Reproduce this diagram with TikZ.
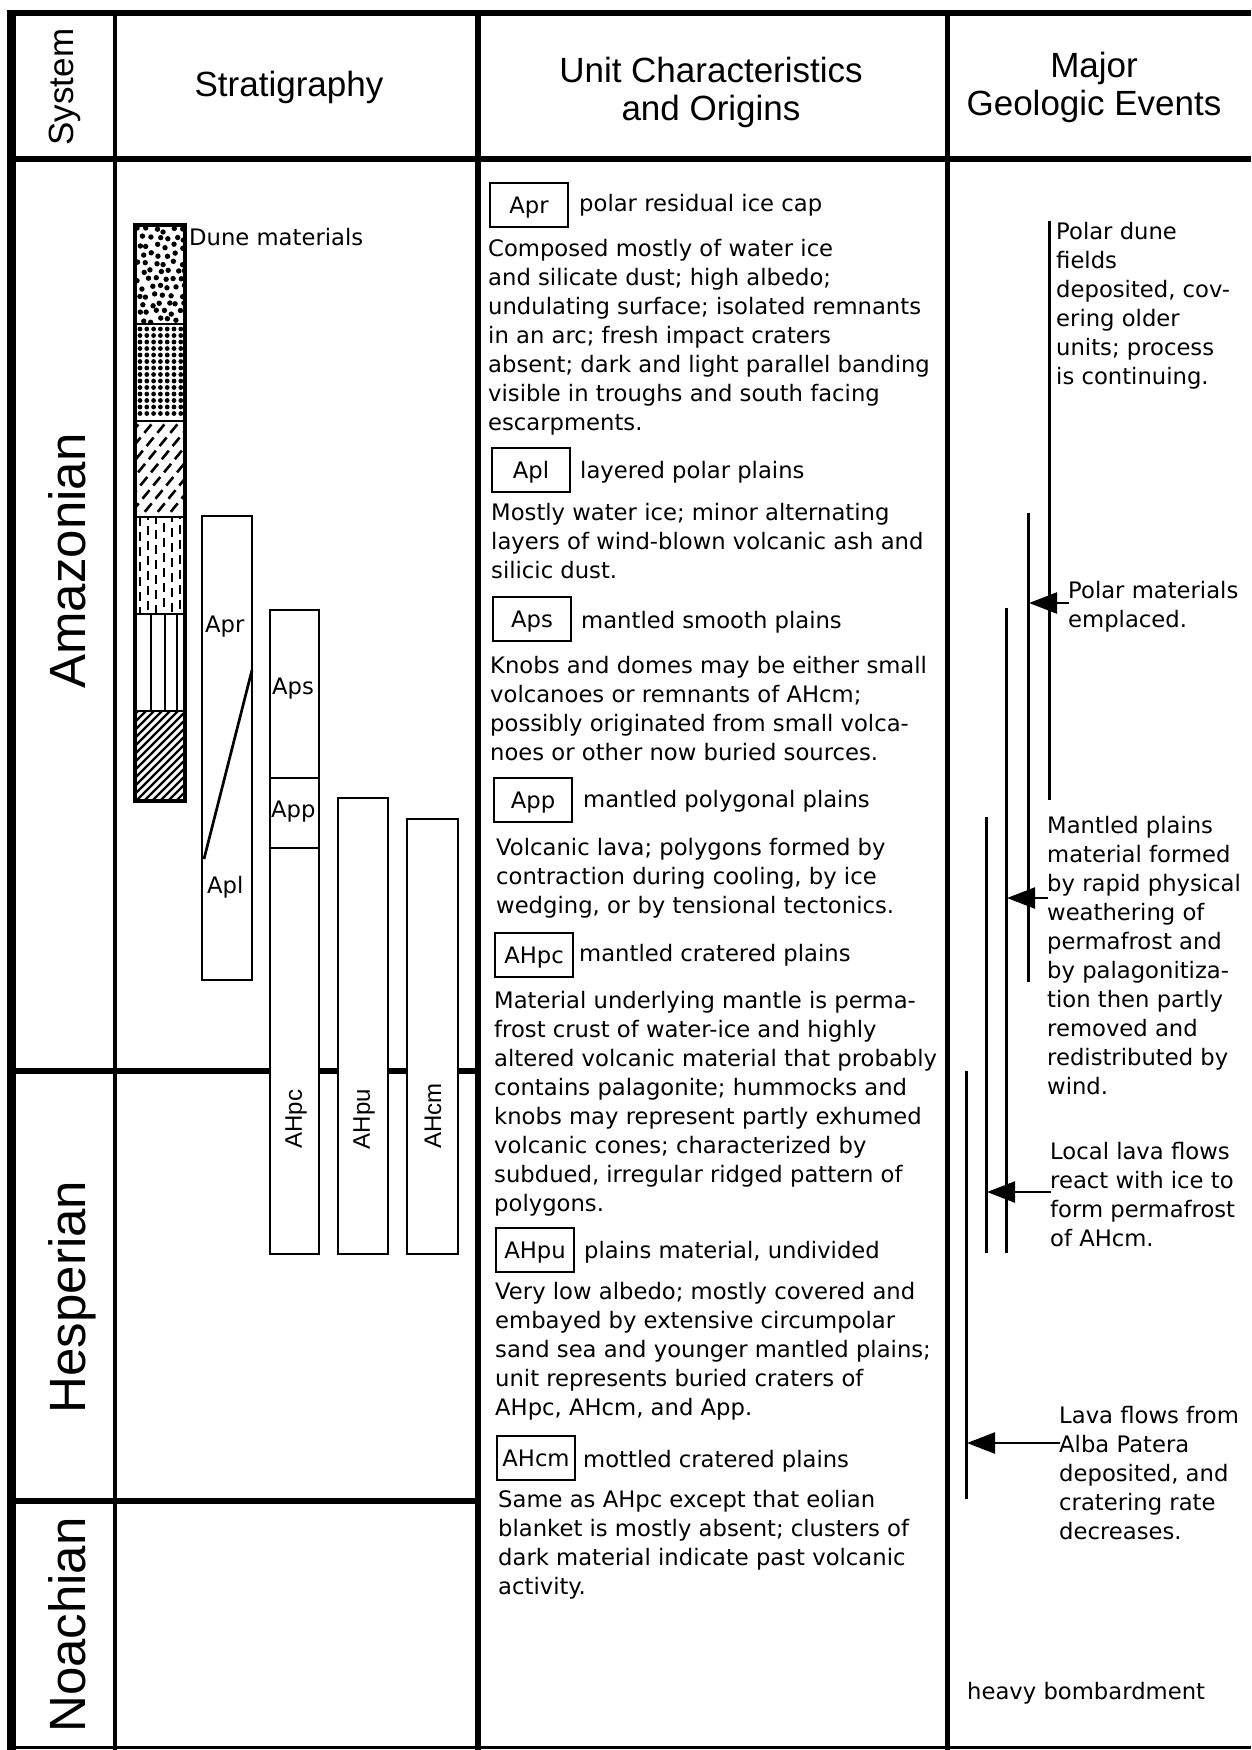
\documentclass[tikz,border=0pt]{standalone}
\usepackage{fontspec}
\setmainfont{DejaVu Sans}
\newfontfamily\helvfont{Liberation Sans}
\usetikzlibrary{arrows.meta}
\newcommand\bodyfnt{\fontsize{22.7}{29}\selectfont}
\newcommand\headfnt{\helvfont\fontsize{35}{38}\selectfont}
\newcommand\perfnt{\helvfont\fontsize{51}{55}\selectfont}
\newcommand\rotfnt{\helvfont\fontsize{24}{28}\selectfont}
\begin{document}
\begin{tikzpicture}[x=1pt,y=-1pt,
  body/.style={anchor=north west, inner sep=0pt, align=left, font=\bodyfnt},
  ttl/.style={anchor=base west, inner sep=0pt, font=\bodyfnt},
  unitbox/.style={draw, line width=2.5pt, minimum width=78pt, minimum height=44pt, inner sep=0pt, text height=17pt, text depth=0pt, font=\bodyfnt},
  stratbox/.style={draw, line width=2.7pt, fill=white},
  hdr/.style={anchor=base, inner sep=0pt, font=\headfnt},
  per/.style={anchor=base, rotate=90, inner sep=0pt, font=\perfnt},
  rotlab/.style={rotate=90, inner sep=0pt, font=\rotfnt},
  slab/.style={anchor=west, inner sep=0pt, font=\bodyfnt},
  evline/.style={line width=3pt},
  evarrow/.style={line width=2.4pt, -{Triangle[length=28pt,width=21pt]}},
  rule/.style={line width=6pt}
]
\useasboundingbox (0,0) rectangle (1251,1750);
\fill[white] (0,0) rectangle (1251,1750);

% ---------- frame ----------
\draw[rule] (7,13) -- (1251,13);
\draw[rule] (7,159) -- (1251,159);
\draw[line width=9pt] (11,10) -- (11,1750);
\draw[line width=4.5pt] (115,13) -- (115,1750);
\draw[rule] (478,13) -- (478,1750);
\draw[line width=5pt] (947,13) -- (947,1750);
\draw[rule] (11,1071) -- (478,1071);
\draw[rule] (11,1501) -- (478,1501);
\draw[line width=3pt] (11,1747) -- (1251,1747);

% ---------- headers ----------
\node[hdr, rotate=90] (hsys) at (73,87) {System};
\node[hdr] (hstrat) at (289,97) {Stratigraphy};
\node[hdr] (hunit1) at (711,83) {Unit Characteristics};
\node[hdr] (hunit2) at (711,121) {and Origins};
\node[hdr] (hmaj1) at (1094,78) {Major};
\node[hdr] (hmaj2) at (1094,116) {Geologic Events};

% ---------- periods ----------
\node[per] (pama) at (85,561) {Amazonian};
\node[per] (phes) at (85,1297) {Hesperian};
\node[per] (pnoa) at (85,1625) {Noachian};

% ---------- dune column ----------
\begin{scope}
\clip (135,225) rectangle (185,324);
\pgfmathsetseed{5}
\foreach \r in {0,...,11} {
  \foreach \c in {0,...,5} {
    \pgfmathsetmacro\ox{mod(\r,2)*4}
    \fill (139+\c*8.4+\ox+2.2*rand,230+\r*8.2+2.2*rand) circle (2.7);
  }
}
\end{scope}
\begin{scope}
\clip (135,324) rectangle (185,421);
\foreach \cx in {140,146.8,...,182} {\foreach \cy in {329,335.5,...,418} {\fill (\cx,\cy) circle (2.4);}}
\end{scope}
\begin{scope}
\clip (135,421) rectangle (185,517);
\foreach \s in {30,43,...,200} {\draw[line width=2.6pt, dash pattern=on 11pt off 6pt] (\s,525) -- ++(90,-110);}
\end{scope}
\begin{scope}
\clip (135,517) rectangle (185,614);
\foreach \cx/\ph in {140/0,148/6,156/2,164/9,172/4,180/7} {\draw[line width=2.3pt, dash pattern=on 9pt off 6pt, dash phase=\ph pt] (\cx,517) -- (\cx,614);}
\end{scope}
\foreach \cx in {151,165,177} {\draw[line width=2.5pt] (\cx,614) -- (\cx,711);}
\begin{scope}
\clip (135,711) rectangle (185,801);
\foreach \s in {20,28,...,200} {\draw[line width=2.2pt] (\s,805) -- ++(100,-100);}
\end{scope}
\foreach \cy in {324,421,517,614,711} {\draw[line width=2.7pt] (135,\cy) -- (185,\cy);}
\draw[line width=3.2pt] (135,225) rectangle (185,801);
\node[ttl] (dune) at (189,245) {Dune materials};

% ---------- stratigraphic bars ----------
\draw[stratbox] (202,516) rectangle (252,980);
\draw[line width=2.7pt] (252,670) -- (204,859);
\node[slab] (sapr) at (205,627) {Apr};
\node[slab] (sapl) at (207,887) {Apl};

\draw[stratbox] (270,610) rectangle (319,1254);
\draw[line width=2.7pt] (270,778) -- (319,778);
\draw[line width=2.7pt] (270,848) -- (319,848);
\node[slab] (saps) at (272,689) {Aps};
\node[slab] (sapp) at (271,812) {App};
\node[rotlab] (sahpc) at (296,1119) {AHpc};

\draw[stratbox] (338,798) rectangle (388,1254);
\node[rotlab] (sahpu) at (364,1119) {AHpu};

\draw[stratbox] (407,819) rectangle (458,1254);
\node[rotlab] (sahcm) at (433,1116) {AHcm};

% ---------- unit characteristics ----------
\node[unitbox] (bapr) at (529,205) {Apr};
\node[ttl] (tapr) at (579,211) {polar residual ice cap};
\node[body] (dapr) at (488,235.7) {\strut Composed mostly of water ice\\and silicate dust; high albedo;\\undulating surface; isolated remnants\\in an arc; fresh impact craters\\absent; dark and light parallel banding\\visible in troughs and south facing\\escarpments.};

\node[unitbox] (bapl) at (531,470) {Apl};
\node[ttl] (tapl) at (580,478) {layered polar plains};
\node[body] (dapl) at (491,499.7) {\strut Mostly water ice; minor alternating\\layers of wind-blown volcanic ash and\\silicic dust.};

\node[unitbox] (baps) at (532,619) {Aps};
\node[ttl] (taps) at (581,628) {mantled smooth plains};
\node[body] (daps) at (490,652.7) {\strut Knobs and domes may be either small\\volcanoes or remnants of AHcm;\\possibly originated from small volca-\\noes or other now buried sources.};

\node[unitbox] (bapp) at (533,800) {App};
\node[ttl] (tapp) at (583,807) {mantled polygonal plains};
\node[body] (dapp) at (496,834.7) {\strut Volcanic lava; polygons formed by\\contraction during cooling, by ice\\wedging, or by tensional tectonics.};

\node[unitbox] (bahpc) at (534,955) {AHpc};
\node[ttl] (tahpc) at (579,961) {mantled cratered plains};
\node[body] (dahpc) at (494,987.7) {\strut Material underlying mantle is perma-\\frost crust of water-ice and highly\\altered volcanic material that probably\\contains palagonite; hummocks and\\knobs may represent partly exhumed\\volcanic cones; characterized by\\subdued, irregular ridged pattern of\\polygons.};

\node[unitbox] (bahpu) at (535,1250) {AHpu};
\node[ttl] (tahpu) at (584,1258) {plains material, undivided};
\node[body] (dahpu) at (495,1278.7) {\strut Very low albedo; mostly covered and\\embayed by extensive circumpolar\\sand sea and younger mantled plains;\\unit represents buried craters of\\AHpc, AHcm, and App.};

\node[unitbox] (bahcm) at (536,1458) {AHcm};
\node[ttl] (tahcm) at (583,1467) {mottled cratered plains};
\node[body] (dahcm) at (498,1486.7) {\strut Same as AHpc except that eolian\\blanket is mostly absent; clusters of\\dark material indicate past volcanic\\activity.};

% ---------- geologic events ----------
\draw[evline] (1049,221) -- (1049,800);
\draw[evline] (1028,513) -- (1028,982);
\draw[evline] (1006,608) -- (1006,1253);
\draw[evline] (986,817) -- (986,1253);
\draw[evline] (966,1071) -- (966,1499);

\node[body] (edune) at (1056,218.7) {\strut Polar dune\\fields\\deposited, cov-\\ering older\\units; process\\is continuing.};
\node[body] (epolar) at (1068,577.7) {\strut Polar materials\\emplaced.};
\node[body] (emant) at (1047,812.7) {\strut Mantled plains\\material formed\\by rapid physical\\weathering of\\permafrost and\\by palagonitiza-\\tion then partly\\removed and\\redistributed by\\wind.};
\node[body] (elocal) at (1050,1138.7) {\strut Local lava flows\\react with ice to\\form permafrost\\of AHcm.};
\node[body] (ealba) at (1059,1402.7) {\strut Lava flows from\\Alba Patera\\deposited, and\\cratering rate\\decreases.};
\node[ttl] (ebomb) at (967,1699) {heavy bombardment};

\coordinate (a1s) at (1069,603);
\coordinate (a1e) at (1029,603);
\coordinate (a2s) at (1048,898);
\coordinate (a2e) at (1007,898);
\coordinate (a3s) at (1051,1192);
\coordinate (a3e) at (987,1192);
\coordinate (a4s) at (1060,1443);
\coordinate (a4e) at (967,1443);
\draw[evarrow] (a1s) -- (a1e);
\draw[evarrow] (a2s) -- (a2e);
\draw[evarrow] (a3s) -- (a3e);
\draw[evarrow] (a4s) -- (a4e);
\end{tikzpicture}
\end{document}
